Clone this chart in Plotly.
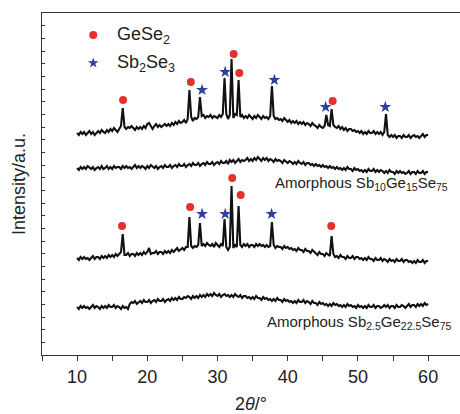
import plotly.graph_objects as go

# ---------------- data ----------------
# 2theta sampling grid (degrees): 10.00, 10.25, ... 60.00
two_theta = [10 + 0.25 * i for i in range(201)]

# Intensities (a.u., stacked as plotted), one value per grid point
crystal_sb10 = [
    222, 220, 223, 221,  223, 220, 222, 224,  221, 223, 220, 222,  224, 222, 225, 223,
    222, 225, 223, 226,  224, 227, 225, 223,  226, 229, 247, 228,  226, 228, 227, 229,
    227, 225, 228, 226,  228, 226, 229, 227,  231, 232, 229, 226,  229, 231, 228, 230,
    228, 230, 231, 229,  231, 229, 232, 230,  233, 231, 234, 232,  233, 235, 232, 236,
    265, 238, 234, 237,  236, 238, 258, 239,  240, 237, 239, 238,  240, 237, 239, 238,
    237, 240, 238, 241,  277, 241, 236, 240,  296, 237, 241, 240,  275, 238, 240, 237,
    239, 237, 240, 238,  236, 239, 237, 240,  238, 236, 239, 237,  238, 236, 239, 269,
    239, 236, 237, 235,  236, 234, 237, 235,  233, 235, 232, 234,  232, 234, 231, 233,
    231, 233, 230, 232,  231, 229, 232, 230,  229, 227, 230, 228,  227, 229, 240, 230,
    229, 246, 230, 228,  227, 229, 226, 228,  225, 227, 224, 226,  226, 224, 225, 223,
    224, 222, 224, 221,  223, 221, 224, 222,  222, 224, 221, 223,  221, 223, 220, 223,
    241, 220, 218, 220,  218, 220, 217, 219,  219, 217, 220, 218,  218, 220, 217, 219,
    220, 218, 219, 217,  219, 221, 218, 220,  220,
]
amorph_sb10 = [
    187, 185, 188, 186,  188, 186, 189, 187,  186, 188, 185, 187,  188, 186, 189, 186,
    187, 189, 186, 188,  186, 189, 187, 188,  188, 186, 189, 187,  189, 187, 188, 186,
    188, 190, 187, 189,  187, 189, 188, 186,  189, 187, 190, 188,  187, 189, 186, 188,
    189, 187, 190, 188,  188, 190, 187, 189,  190, 188, 191, 189,  189, 191, 188, 190,
    191, 189, 192, 190,  190, 192, 189, 191,  192, 190, 193, 191,  191, 193, 190, 192,
    193, 191, 194, 192,  192, 194, 191, 195,  193, 195, 192, 194,  196, 193, 195, 194,
    195, 197, 194, 196,  194, 197, 195, 198,  196, 194, 197, 195,  197, 194, 196, 195,
    193, 196, 194, 195,  194, 192, 195, 193,  192, 194, 193, 191,  193, 191, 194, 192,
    191, 193, 190, 192,  192, 190, 191, 189,  191, 189, 190, 188,  190, 188, 189, 187,
    189, 187, 188, 186,  188, 186, 187, 185,  187, 185, 188, 186,  186, 184, 187, 185,
    186, 184, 185, 183,  185, 183, 186, 184,  184, 186, 183, 185,  183, 185, 184, 182,
    184, 182, 185, 183,  183, 181, 184, 182,  184, 182, 183, 181,  182, 184, 181, 183,
    183, 181, 184, 182,  182, 184, 181, 183,  183,
]
crystal_sb25 = [
    97, 95, 98, 96,  98, 96, 97, 95,  97, 99, 96, 98,  98, 96, 99, 97,
    99, 97, 100, 98,  100, 98, 101, 99,  101, 103, 121, 100,  100, 102, 99, 101,
    101, 99, 102, 100,  102, 100, 103, 101,  103, 107, 101, 102,  102, 104, 101, 103,
    103, 101, 104, 102,  104, 102, 105, 103,  105, 107, 104, 106,  107, 105, 108, 108,
    138, 109, 107, 109,  108, 110, 132, 109,  111, 109, 112, 110,  109, 111, 108, 112,
    110, 108, 111, 109,  136, 108, 105, 108,  169, 107, 110, 108,  149, 110, 108, 111,
    109, 111, 108, 110,  110, 108, 111, 109,  111, 109, 110, 108,  110, 108, 109, 133,
    110, 107, 109, 108,  108, 106, 109, 107,  108, 106, 107, 105,  106, 104, 107, 105,
    105, 103, 106, 104,  104, 102, 105, 103,  102, 100, 103, 101,  101, 99, 102, 100,
    99, 119, 101, 98,  99, 97, 100, 98,  98, 96, 99, 97,  97, 99, 96, 98,
    98, 96, 97, 95,  97, 95, 98, 96,  96, 94, 97, 95,  95, 97, 94, 96,
    95, 93, 96, 94,  95, 93, 96, 94,  94, 96, 93, 95,  95, 93, 94, 92,
    94, 92, 95, 93,  93, 95, 92, 94,  94,
]
amorph_sb25 = [
    48, 46, 49, 47,  49, 47, 48, 46,  48, 50, 47, 49,  48, 46, 49, 47,
    49, 47, 50, 48,  48, 50, 47, 49,  48, 46, 49, 47,  48, 46, 51, 53,
    52, 54, 51, 53,  54, 52, 55, 53,  53, 55, 52, 54,  55, 53, 56, 54,
    54, 56, 53, 55,  56, 54, 57, 55,  57, 55, 58, 56,  56, 58, 57, 59,
    58, 56, 59, 57,  59, 57, 60, 58,  60, 58, 61, 59,  61, 59, 62, 60,
    59, 61, 58, 60,  61, 59, 60, 58,  60, 58, 61, 59,  58, 60, 57, 59,
    59, 57, 58, 56,  58, 56, 59, 57,  57, 55, 58, 56,  57, 55, 56, 54,
    56, 54, 57, 55,  55, 53, 56, 54,  55, 53, 54, 52,  54, 52, 55, 53,
    53, 55, 52, 54,  53, 51, 54, 52,  52, 50, 53, 51,  52, 50, 51, 49,
    51, 49, 52, 50,  51, 49, 50, 48,  50, 48, 51, 49,  50, 48, 49, 47,
    50, 48, 49, 47,  49, 47, 50, 48,  48, 50, 47, 49,  49, 47, 48, 50,
    48, 50, 47, 49,  49, 47, 50, 48,  48, 50, 49, 47,  49, 51, 48, 50,
    50, 48, 51, 49,  51, 49, 52, 50,  51,
]

# Phase markers (2theta, plotted height)
gese2_x = [16.55, 26.2, 32.3, 33.1, 46.4, 16.4, 26.1, 32.1, 33.3, 46.2]
gese2_y = [255, 273, 301, 282, 254, 129, 148, 177, 160, 129]
sb2se3_x = [27.8, 31.1, 38.1, 45.4, 53.9, 27.8, 31.1, 37.7]
sb2se3_y = [265, 283, 275, 248, 248, 141, 141, 141]

legend_x = 12.3
legend_y = [320, 292]
legend_text = ["GeSe<sub>2</sub>", "Sb<sub>2</sub>Se<sub>3</sub>"]

label_text = ["Amorphous Sb<sub>10</sub>Ge<sub>15</sub>Se<sub>75</sub>",
              "Amorphous Sb<sub>2.5</sub>Ge<sub>22.5</sub>Se<sub>75</sub>"]
label_x = [37.95, 36.8]
label_y = [172, 33]

x_tick_vals = [10, 20, 30, 40, 50, 60]
x_tick_text = ["10", "20", "30", "40", "50", "60"]

# ---------------- figure ----------------
FONT = "Liberation Sans, Arial, Helvetica, sans-serif"
RED = "#e4312b"
BLUE = "#2e3f9f"

fig = go.Figure()
for ys in [crystal_sb10, amorph_sb10, crystal_sb25, amorph_sb25]:
    fig.add_trace(go.Scatter(x=two_theta, y=ys, mode="lines",
                             line=dict(color="#111111", width=2.1),
                             showlegend=False, hoverinfo="skip"))

fig.add_trace(go.Scatter(x=gese2_x, y=gese2_y, mode="markers",
                         marker=dict(symbol="circle", size=8, color=RED),
                         showlegend=False))
fig.add_trace(go.Scatter(x=sb2se3_x, y=sb2se3_y, mode="markers",
                         marker=dict(symbol="star", size=9, color=BLUE),
                         showlegend=False))
# legend glyphs
fig.add_trace(go.Scatter(x=[legend_x], y=[legend_y[0]], mode="markers",
                         marker=dict(symbol="circle", size=8, color=RED),
                         showlegend=False))
fig.add_trace(go.Scatter(x=[legend_x], y=[legend_y[1]], mode="markers",
                         marker=dict(symbol="star", size=8, color=BLUE),
                         showlegend=False))

for t, yv in zip(legend_text, legend_y):
    fig.add_annotation(x=15.4, y=yv, text=t, showarrow=False, xanchor="left",
                       yanchor="middle", font=dict(family=FONT, size=18, color="#222"))

for t, xv, yv in zip(label_text, label_x, label_y):
    fig.add_annotation(x=xv, y=yv, text=t, showarrow=False, xanchor="left",
                       yanchor="middle", font=dict(family=FONT, size=15, color="#222"))

fig.update_layout(
    width=460, height=414,
    margin=dict(l=42, r=0, t=13, b=59),
    paper_bgcolor="white", plot_bgcolor="white",
    font=dict(family=FONT, color="#222"),
)
fig.update_xaxes(
    range=[5, 64.54], tickmode="array", tickvals=x_tick_vals, ticktext=x_tick_text,
    ticks="outside", ticklen=5, tickwidth=1, tickcolor="#333",
    minor=dict(tick0=5, dtick=5, ticks="outside", ticklen=5, tickwidth=1, tickcolor="#333",
               showgrid=False),
    showline=True, linecolor="#333", linewidth=1.3, mirror=True,
    showgrid=False, zeroline=False,
    tickfont=dict(size=18, family=FONT, color="#222"),
    title=dict(text="2<i>θ</i>/°", font=dict(size=18, family=FONT, color="#222"), standoff=13),
)
fig.update_yaxes(
    range=[0, 342], tick0=0, dtick=342 / 27,
    ticks="inside", ticklen=3, tickwidth=1, tickcolor="#333",
    showticklabels=False,
    showline=True, linecolor="#333", linewidth=1.3,
    showgrid=False, zeroline=False,
    title=dict(text="Intensity/a.u.", font=dict(size=18, family=FONT, color="#222"), standoff=10),
)

fig.write_html("out.html")
